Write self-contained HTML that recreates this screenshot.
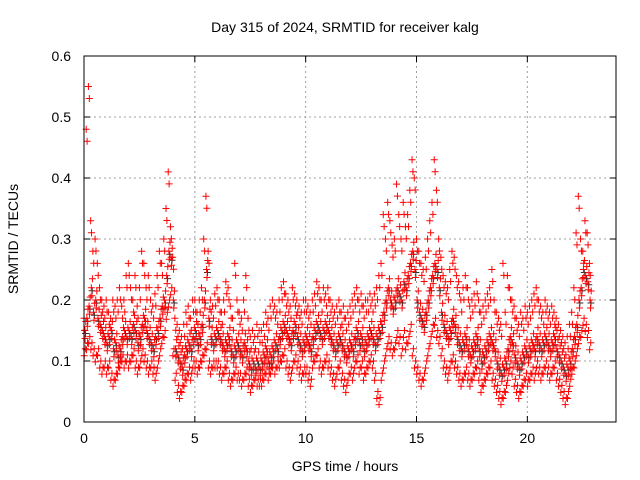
<!DOCTYPE html>
<html><head><meta charset="utf-8"><style>
body{margin:0;background:#fff}
svg{display:block;font-family:"Liberation Sans",sans-serif}
</style></head><body>
<svg id="chart" width="640" height="480" viewBox="0 0 640 480">
<text x="345" y="32" font-size="14" text-anchor="middle">Day 315 of 2024, SRMTID for receiver kalg</text>
<g id="grid"></g>
<g id="ticks"></g>
<g id="points"></g>
<rect x="84" y="56" width="532" height="366" fill="none" stroke="#000" stroke-width="1"/>
<text x="345" y="471" font-size="14" text-anchor="middle">GPS time / hours</text>
<text transform="translate(18,239) rotate(-90)" font-size="14" text-anchor="middle">SRMTID / TECUs</text>
</svg>
<script>
const xTicks=[0,5,10,15,20];
const yTicks=[0,0.1,0.2,0.3,0.4,0.5,0.6];
const yTickLabels=["0","0.1","0.2","0.3","0.4","0.5","0.6"];
const timeStep=0.1;
const midVals=[0.15,0.17,0.19,0.22,0.18,0.2,0.17,0.16,0.15,0.14,
0.13,0.14,0.15,0.12,0.13,0.11,0.12,0.14,0.15,0.14,
0.15,0.14,0.16,0.15,0.13,0.14,0.16,0.17,0.15,0.14,
0.13,0.12,0.14,0.15,0.17,0.19,0.2,0.24,0.28,0.27,
0.2,0.12,0.11,0.1,0.09,0.11,0.12,0.13,0.12,0.14,
0.15,0.13,0.14,0.16,0.2,0.25,0.17,0.14,0.13,0.14,
0.15,0.14,0.13,0.12,0.13,0.14,0.12,0.11,0.12,0.13,
0.12,0.11,0.13,0.12,0.1,0.09,0.1,0.09,0.1,0.09,
0.1,0.11,0.12,0.1,0.11,0.12,0.13,0.12,0.14,0.15,
0.16,0.15,0.14,0.13,0.15,0.16,0.14,0.13,0.12,0.13,
0.14,0.13,0.12,0.14,0.15,0.16,0.15,0.14,0.15,0.16,
0.15,0.14,0.13,0.12,0.13,0.14,0.13,0.12,0.11,0.12,
0.13,0.12,0.14,0.15,0.13,0.14,0.12,0.13,0.14,0.15,
0.14,0.13,0.14,0.15,0.16,0.18,0.2,0.22,0.2,0.19,
0.2,0.22,0.21,0.2,0.23,0.22,0.24,0.26,0.28,0.25,
0.2,0.18,0.17,0.16,0.18,0.2,0.22,0.24,0.26,0.25,
0.22,0.18,0.16,0.15,0.14,0.15,0.17,0.16,0.14,0.13,
0.12,0.13,0.14,0.12,0.11,0.12,0.13,0.14,0.12,0.1,
0.11,0.12,0.13,0.14,0.13,0.12,0.1,0.09,0.08,0.09,
0.1,0.12,0.14,0.13,0.11,0.1,0.09,0.1,0.11,0.12,
0.11,0.12,0.13,0.12,0.14,0.13,0.12,0.13,0.14,0.13,
0.12,0.13,0.14,0.12,0.11,0.1,0.09,0.08,0.09,0.1,
0.12,0.14,0.16,0.2,0.22,0.25,0.24,0.23,0.2];
const highVals=[0.17,0.48,0.55,0.33,0.28,0.3,0.26,0.22,0.2,0.19,
0.2,0.18,0.17,0.2,0.19,0.2,0.22,0.19,0.2,0.24,
0.26,0.22,0.2,0.24,0.19,0.22,0.28,0.26,0.22,0.24,
0.2,0.19,0.21,0.24,0.28,0.26,0.3,0.35,0.41,0.32,
0.27,0.17,0.16,0.15,0.14,0.16,0.18,0.19,0.17,0.2,
0.2,0.18,0.2,0.22,0.3,0.37,0.28,0.2,0.19,0.21,
0.22,0.2,0.18,0.2,0.23,0.22,0.19,0.17,0.26,0.2,
0.18,0.17,0.2,0.24,0.17,0.14,0.15,0.14,0.16,0.15,
0.15,0.16,0.18,0.17,0.19,0.2,0.19,0.18,0.2,0.22,
0.23,0.21,0.2,0.19,0.22,0.21,0.2,0.19,0.18,0.2,
0.2,0.19,0.18,0.2,0.21,0.23,0.22,0.2,0.22,0.21,
0.22,0.2,0.19,0.18,0.19,0.2,0.18,0.19,0.17,0.18,
0.19,0.2,0.21,0.22,0.2,0.21,0.19,0.2,0.2,0.21,
0.2,0.21,0.22,0.24,0.26,0.34,0.3,0.36,0.33,0.29,
0.3,0.39,0.34,0.3,0.36,0.32,0.34,0.38,0.43,0.4,
0.3,0.28,0.26,0.25,0.27,0.3,0.33,0.36,0.43,0.38,
0.3,0.27,0.24,0.23,0.22,0.25,0.28,0.27,0.24,0.23,
0.2,0.22,0.24,0.22,0.19,0.2,0.21,0.23,0.2,0.18,
0.19,0.2,0.21,0.22,0.25,0.2,0.18,0.17,0.16,0.26,
0.18,0.24,0.22,0.2,0.19,0.17,0.16,0.18,0.17,0.19,
0.18,0.19,0.2,0.21,0.22,0.2,0.19,0.18,0.2,0.19,
0.18,0.19,0.18,0.17,0.16,0.15,0.14,0.13,0.14,0.16,
0.18,0.22,0.31,0.37,0.3,0.28,0.33,0.31,0.26];
const lowVals=[0.12,0.13,0.14,0.13,0.12,0.11,0.12,0.1,0.09,0.1,
0.09,0.1,0.08,0.07,0.08,0.09,0.1,0.11,0.1,0.11,
0.1,0.11,0.12,0.1,0.09,0.1,0.12,0.11,0.1,0.09,
0.1,0.09,0.08,0.1,0.12,0.14,0.15,0.18,0.2,0.22,
0.12,0.08,0.06,0.05,0.06,0.07,0.08,0.09,0.08,0.1,
0.1,0.09,0.1,0.11,0.12,0.13,0.1,0.09,0.1,0.1,
0.1,0.09,0.08,0.09,0.1,0.08,0.07,0.08,0.09,0.08,
0.08,0.07,0.08,0.09,0.07,0.06,0.07,0.08,0.07,0.07,
0.07,0.08,0.09,0.08,0.09,0.1,0.09,0.1,0.1,0.11,
0.12,0.1,0.09,0.08,0.1,0.11,0.1,0.09,0.08,0.09,
0.09,0.08,0.07,0.1,0.11,0.12,0.1,0.09,0.1,0.11,
0.1,0.09,0.08,0.07,0.09,0.1,0.08,0.07,0.06,0.08,
0.09,0.08,0.1,0.11,0.09,0.1,0.08,0.09,0.1,0.11,
0.1,0.08,0.05,0.04,0.08,0.1,0.12,0.14,0.13,0.12,
0.13,0.15,0.14,0.12,0.15,0.13,0.14,0.16,0.12,0.1,
0.09,0.08,0.07,0.08,0.1,0.12,0.14,0.16,0.17,0.15,
0.14,0.12,0.1,0.09,0.08,0.1,0.11,0.1,0.09,0.08,
0.07,0.08,0.09,0.08,0.07,0.08,0.09,0.1,0.08,0.06,
0.07,0.08,0.09,0.1,0.08,0.07,0.06,0.05,0.04,0.05,
0.06,0.08,0.1,0.09,0.07,0.06,0.05,0.06,0.07,0.08,
0.07,0.08,0.09,0.08,0.1,0.09,0.08,0.09,0.1,0.09,
0.08,0.09,0.1,0.08,0.07,0.06,0.05,0.04,0.05,0.07,
0.09,0.1,0.12,0.14,0.15,0.17,0.16,0.15,0.13];

const NS="http://www.w3.org/2000/svg";
const L=84,R=616,T=56,B=422,XMAX=24,YMAX=0.6;
const xs=v=>L+(R-L)*v/XMAX;
const ys=v=>B-(B-T)*v/YMAX;
function mk(tag,parent){const e=document.createElementNS(NS,tag);parent.appendChild(e);return e;}
const grid=document.getElementById('grid'),ticks=document.getElementById('ticks'),pts=document.getElementById('points');
xTicks.forEach(t=>{
  const x=xs(t);
  if(t>0){const g=mk('line',grid);
  
  
  g.setAttribute('x1',x);g.setAttribute('x2',x);g.setAttribute('y1',T);g.setAttribute('y2',B);
  g.setAttribute('stroke','#a0a0a0');g.setAttribute('stroke-dasharray','2,3');}
  const tm=mk('path',ticks);
  
  
  tm.setAttribute('d',`M${x},${B}v-6M${x},${T}v6`);tm.setAttribute('stroke','#000');
  const lb=mk('text',ticks);
  
  
  lb.setAttribute('x',x);lb.setAttribute('y',B+21);lb.setAttribute('font-size','14');lb.setAttribute('text-anchor','middle');
  lb.textContent=String(t);
});
yTicks.forEach((t,i)=>{
  const y=ys(t);
  if(t>0&&t<YMAX){const g=mk('line',grid);
  
  
  g.setAttribute('x1',L);g.setAttribute('x2',R);g.setAttribute('y1',y);g.setAttribute('y2',y);
  g.setAttribute('stroke','#a0a0a0');g.setAttribute('stroke-dasharray','2,3');}
  const tm=mk('path',ticks);
  
  
  tm.setAttribute('d',`M${L},${y}h6M${R},${y}h-6`);tm.setAttribute('stroke','#000');
  const lb=mk('text',ticks);
  
  
  lb.setAttribute('x',L-13);lb.setAttribute('y',y+5);lb.setAttribute('font-size','14');lb.setAttribute('text-anchor','end');
  lb.textContent=yTickLabels[i];
});
function plot(arr,offset,dy,color,name){
  let d='';
  arr.forEach((v,i)=>{const x=xs(i*timeStep+offset),y=ys(v)+dy;d+=`M${x-3.5},${y}h7M${x},${y-3.5}v7`;});
  const p=mk('path',pts);
  
  
  p.setAttribute('d',d);p.setAttribute('stroke',color);p.setAttribute('fill','none');p.setAttribute('stroke-width','1');
}
plot(midVals,0.07,3,'#333','black-series-points');
plot(highVals,0,0,'#f00','red-series-high');
plot(midVals,0.03,0,'#f00','red-series-mid');
plot(lowVals,0.06,0,'#f00','red-series-low');
plot(midVals,0.08,-9,'#f00','red-series-mid-upper');
plot(lowVals,0.01,7,'#f00','red-series-low-lower');
plot(midVals,0.05,8,'#f00','red-series-mid-lower');
plot(highVals,0.04,12,'#f00','red-series-high-lower');
</script>
</body></html>
